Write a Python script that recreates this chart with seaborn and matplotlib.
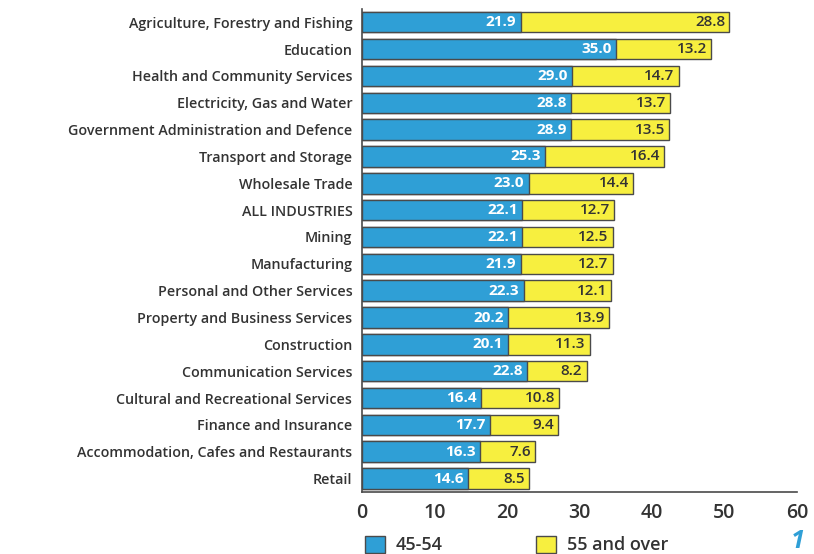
import matplotlib
matplotlib.use("Agg")
import matplotlib.pyplot as plt
import seaborn as sns
import pandas as pd
import numpy as np
from matplotlib.patches import Patch

categories = [
    "Agriculture, Forestry and Fishing",
    "Education",
    "Health and Community Services",
    "Electricity, Gas and Water",
    "Government Administration and Defence",
    "Transport and Storage",
    "Wholesale Trade",
    "ALL INDUSTRIES",
    "Mining",
    "Manufacturing",
    "Personal and Other Services",
    "Property and Business Services",
    "Construction",
    "Communication Services",
    "Cultural and Recreational Services",
    "Finance and Insurance",
    "Accommodation, Cafes and Restaurants",
    "Retail",
]
age_45_54 = [21.9, 35.0, 29.0, 28.8, 28.9, 25.3, 23.0, 22.1, 22.1, 21.9,
             22.3, 20.2, 20.1, 22.8, 16.4, 17.7, 16.3, 14.6]
age_55_over = [28.8, 13.2, 14.7, 13.7, 13.5, 16.4, 14.4, 12.7, 12.5, 12.7,
               12.1, 13.9, 11.3, 8.2, 10.8, 9.4, 7.6, 8.5]
series_names = ["45-54", "55 and over"]
xticks = [0, 10, 20, 30, 40, 50, 60]

BLUE = "#2f9fd6"
YELLOW = "#f7ef3f"
EDGE = "#4a4a4a"
TEXT = "#333333"

df = pd.DataFrame({"industry": categories, "a": age_45_54, "b": age_55_over})
df["total"] = df["a"] + df["b"]

sns.set_style("white")
plt.rcParams["font.family"] = ["Open Sans", "DejaVu Sans"]

fig = plt.figure(figsize=(8.14, 5.54), dpi=100)
ax = fig.add_axes([0.4447, 0.112, 0.5343, 0.872])

sns.barplot(data=df, y="industry", x="total", color=YELLOW, edgecolor=EDGE,
            linewidth=1.0, width=0.76, ax=ax, orient="h", saturation=1)
sns.barplot(data=df, y="industry", x="a", color=BLUE, edgecolor=EDGE,
            linewidth=1.0, width=0.76, ax=ax, orient="h", saturation=1)

for i, (a, b) in enumerate(zip(age_45_54, age_55_over)):
    ax.text(a - 0.6, i, f"{a:.1f}", ha="right", va="center", color="white",
            fontsize=11, fontweight="bold")
    ax.text(a + b - 0.6, i, f"{b:.1f}", ha="right", va="center", color=TEXT,
            fontsize=11, fontweight="semibold")

ax.set_xlim(0, 60)
ax.set_ylim(len(categories) - 0.5, -0.5)
ax.set_xticks(xticks)
ax.set_xticklabels([str(t) for t in xticks], fontsize=14, color=TEXT,
                   fontweight="semibold")
ax.set_yticks(range(len(categories)))
ax.set_yticklabels(categories, fontsize=10.3, color=TEXT, fontweight="semibold")
ax.set_yticks(np.arange(-0.5, len(categories), 1.0), minor=True)
ax.tick_params(axis="y", which="major", length=0, pad=7)
ax.tick_params(axis="y", which="minor", length=4, color=EDGE, width=1)
ax.tick_params(axis="x", which="major", length=5, color=EDGE, width=1, pad=3)
ax.set_xlabel("")
ax.set_ylabel("")
for s in ["top", "right"]:
    ax.spines[s].set_visible(False)
for s in ["left", "bottom"]:
    ax.spines[s].set_color(EDGE)
    ax.spines[s].set_linewidth(1.2)

handles = [Patch(facecolor=BLUE, edgecolor=EDGE, label=series_names[0]),
           Patch(facecolor=YELLOW, edgecolor=EDGE, label=series_names[1])]
fig.legend(handles=handles, loc="lower left", bbox_to_anchor=(0.428, -0.03),
           ncol=2, frameon=False, handlelength=1.1,
           handleheight=1.1, columnspacing=5.2, handletextpad=0.6,
           labelcolor=TEXT, prop={"weight": "semibold", "size": 13})
fig.text(0.988, 0.0, "1", color=BLUE, fontsize=18, style="italic",
         fontweight="bold", ha="right", va="bottom")

fig.savefig("out.png", dpi=100)
